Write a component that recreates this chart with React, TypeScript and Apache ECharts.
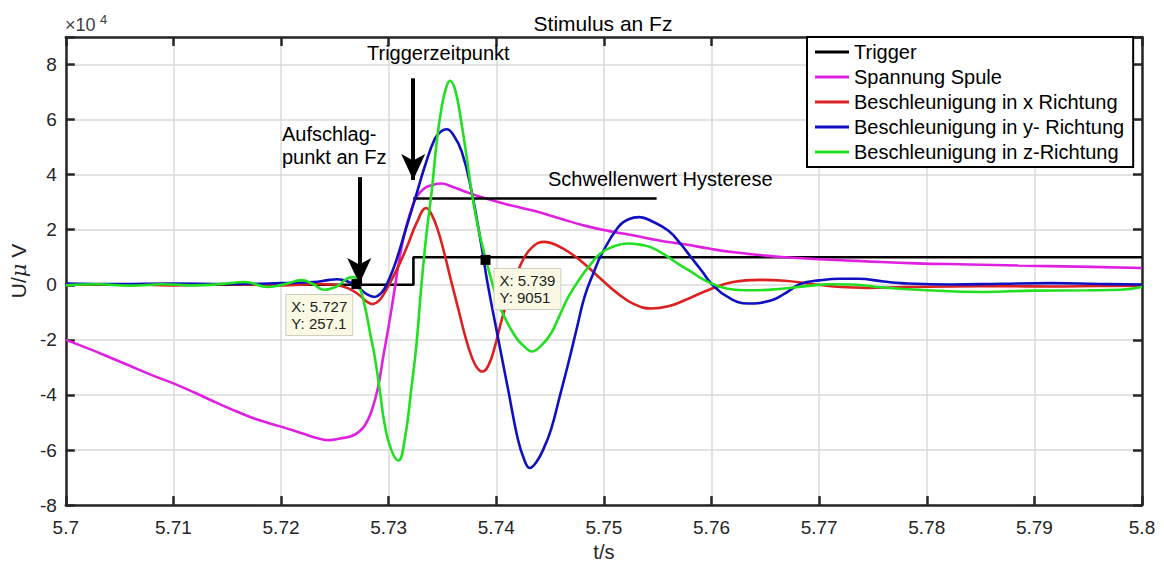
import React, { useEffect, useRef } from "react";
import * as echarts from "echarts";

const FONT = "'Liberation Sans', Arial, Helvetica, sans-serif";

const seriesNames = [
  "Trigger",
  "Spannung Spule",
  "Beschleunigung in x Richtung",
  "Beschleunigung in y- Richtung",
  "Beschleunigung in z-Richtung",
];

// Trigger
const tTrig = [5.7, 5.7323, 5.7323, 5.8];
const vTrig = [0, 0, 10000, 10000];

// Spannung Spule
const tMag = [
  5.7, 5.702, 5.704, 5.706, 5.708, 5.71, 5.712, 5.714, 5.716, 5.718, 5.72, 5.722,
  5.7235, 5.7245, 5.7255, 5.7265, 5.7272, 5.7278, 5.7284, 5.729, 5.7295, 5.73,
  5.7305, 5.731, 5.7315, 5.732, 5.7326, 5.7333, 5.734, 5.7349, 5.7358, 5.737,
  5.7389, 5.741, 5.7435, 5.746, 5.7482, 5.7505, 5.7528, 5.755, 5.7575, 5.76,
  5.7621, 5.7645, 5.7668, 5.77, 5.774, 5.779, 5.784, 5.7885, 5.794, 5.8,
];
const vMag = [
  -20000, -23000, -26200, -29500, -32800, -35800, -39200, -42800, -46200, -49200,
  -51500, -54000, -55800, -56400, -55800, -55000, -53500, -51000, -46000, -37500,
  -26000, -15000, -3000, 9500, 19000, 26000, 32000, 35000, 36200, 36800, 35800,
  34000, 31500, 29200, 26900, 24000, 21500, 19500, 17900, 16200, 14700, 13000,
  11800, 10800, 10000, 9300, 8600, 7800, 7400, 7000, 6600, 6100,
];

// Beschleunigung in x Richtung
const tRed = [
  5.7, 5.705, 5.71, 5.715, 5.72, 5.7235, 5.725, 5.7262, 5.7272, 5.728, 5.7285,
  5.7291, 5.7296, 5.7301, 5.731, 5.7318, 5.7326, 5.7335, 5.734, 5.7346, 5.7352,
  5.7358, 5.7365, 5.7371, 5.7377, 5.7382, 5.7387, 5.7393, 5.7399, 5.7405, 5.7414,
  5.7423, 5.7433, 5.7445, 5.7457, 5.747, 5.7482, 5.7497, 5.7513, 5.7528, 5.7544,
  5.756, 5.7575, 5.76, 5.762, 5.7645, 5.7668, 5.769, 5.772, 5.7745, 5.778, 5.7823,
  5.787, 5.7916, 5.796, 5.8,
];
const vRed = [
  0, 200, -200, 200, -200, 300, 0, -1200, -3500, -6200, -7000, -5800, -3000, 500,
  7500, 14700, 22500, 27900, 25500, 19500, 11000, 1500, -9200, -18500, -26000,
  -30000, -31500, -29000, -22000, -12800, -1500, 7600, 13500, 15600, 14200, 11200,
  7600, 2200, -3200, -7000, -8600, -7800, -5600, -1400, 1000, 1800, 1500, 500,
  -800, -1100, -800, -600, -500, -600, -400, -300,
];

// Beschleunigung in y- Richtung
const tBlue = [
  5.7, 5.705, 5.71, 5.715, 5.72, 5.723, 5.7245, 5.7252, 5.7262, 5.7272, 5.728,
  5.7287, 5.7293, 5.7298, 5.7304, 5.7309, 5.7315, 5.7321, 5.7327, 5.7334, 5.7343,
  5.7349, 5.7354, 5.736, 5.7368, 5.7377, 5.7386, 5.7392, 5.7402, 5.7411, 5.742,
  5.7426, 5.7431, 5.7437, 5.7444, 5.7451, 5.7459, 5.7467, 5.7475, 5.7482, 5.749,
  5.7498, 5.7513, 5.7523, 5.7533, 5.7545, 5.756, 5.7571, 5.7581, 5.7591, 5.76,
  5.7615, 5.7634, 5.7656, 5.7668, 5.7683, 5.77, 5.772, 5.7736, 5.776, 5.7776,
  5.7823, 5.787, 5.7916, 5.796, 5.8,
];
const vBlue = [
  500, 300, 500, 300, 600, 1000, 1800, 2000, 1200, -1000, -3500, -4400, -3000, 0,
  5500, 11200, 19000, 26700, 34500, 43500, 53100, 55800, 56500, 54500, 48300,
  34000, 14700, 400, -20000, -38000, -56000, -63500, -66500, -64500, -59500,
  -52400, -40500, -28400, -15500, -4400, 4000, 11200, 20800, 23800, 24600, 23000,
  19600, 15000, 10000, 5000, 400, -4400, -6800, -5600, -3200, 400, 1600, 2200,
  2200, 1200, 600, 100, 400, 600, 300, 100,
];

// Beschleunigung in z-Richtung
const tGreen = [
  5.7, 5.703, 5.706, 5.709, 5.712, 5.7145, 5.7166, 5.7188, 5.7205, 5.7219, 5.723,
  5.724, 5.7252, 5.7262, 5.7267, 5.7272, 5.7278, 5.7283, 5.7287, 5.7292, 5.7296,
  5.7302, 5.7309, 5.7315, 5.7321, 5.7326, 5.733, 5.7335, 5.734, 5.7345, 5.7349,
  5.7353, 5.7357, 5.7362, 5.7368, 5.7373, 5.7377, 5.7383, 5.7389, 5.7396, 5.7402,
  5.7408, 5.7414, 5.742, 5.7426, 5.7433, 5.7442, 5.7451, 5.7459, 5.7467, 5.7478,
  5.7488, 5.7497, 5.7507, 5.7522, 5.7535, 5.7544, 5.7557, 5.7569, 5.7582, 5.7594,
  5.7615, 5.7637, 5.766, 5.769, 5.771, 5.773, 5.776, 5.7792, 5.7853, 5.79, 5.795,
  5.798, 5.8,
];
const vGreen = [
  -200, 200, -300, 200, -200, 300, 1000, -800, 400, 1700, 200, -1800, -500, 2400,
  2800, 400, -8000, -18000, -26000, -39000, -50000, -59500, -63800, -56000,
  -38000, -21000, -2000, 18000, 34000, 53000, 63900, 71000, 74100, 70500, 57900,
  45000, 34000, 21000, 11200, 1000, -6800, -12000, -16400, -20000, -22400, -24200,
  -22000, -17600, -11000, -4400, 2500, 7600, 11500, 13600, 15000, 14500, 13600,
  10800, 7600, 4500, 1600, -1400, -2000, -1600, -400, 200, 100, -1000, -1800,
  -2600, -2100, -2000, -1800, -800,
];

// data tips (x, y as shown in the picture)
const tipX = [5.727, 5.739];
const tipY = [257.1, 9051];
const tipLabels = ["X: 5.727\nY: 257.1", "X: 5.739\nY: 9051"];

// annotation arrows and threshold line (data coordinates)
const arrowImpact = { x: 5.72727, from: 39100, to: 300 };
const arrowTrigger = { x: 5.73228, from: 75000, to: 38100 };
const hysteresis = { from: 5.73228, to: 5.7549, level: 31300 };

const colors = ["#000000", "#e020e0", "#dd2020", "#1010c0", "#20e020"];

const zip = (t: number[], v: number[]) => t.map((x, i) => [x, v[i]]);

export default function App() {
  const ref = useRef<HTMLDivElement>(null);
  useEffect(() => {
    if (!ref.current) return;
    const chart = echarts.init(ref.current, undefined, { renderer: "svg" });
    const axisLine = { show: true, onZero: false, lineStyle: { color: "#262626", width: 2.5 } };
    const axisTick = { show: true, inside: true, length: 9, lineStyle: { color: "#262626", width: 2.5 } };
    const splitLine = { show: true, lineStyle: { color: "#dadada", width: 1.5 } };
    const datasets = [
      zip(tTrig, vTrig),
      zip(tMag, vMag),
      zip(tRed, vRed),
      zip(tBlue, vBlue),
      zip(tGreen, vGreen),
    ];
    const lineSeries = datasets.map((d, i) => ({
      name: seriesNames[i],
      type: "line",
      data: d,
      showSymbol: false,
      symbol: "none",
      smooth: i === 0 ? false : 0.45,
      lineStyle: { color: colors[i], width: 2.6 },
      itemStyle: { color: colors[i] },
      z: 2 + i,
    }));
    const tipOffsets = [
      [-70, 31],
      [9, 29],
    ];
    chart.setOption({
      animation: false,
      backgroundColor: "#ffffff",
      textStyle: { fontFamily: FONT },
      grid: { left: 64, right: 22, top: 37, bottom: 57 },
      xAxis: [
        {
          type: "value",
          min: 5.7,
          max: 5.8,
          interval: 0.01,
          position: "bottom",
          axisLine,
          axisTick,
          splitLine,
          axisLabel: {
            fontSize: 19,
            color: "#262626",
            margin: 13,
            fontFamily: FONT,
            formatter: (v: number) => String(Math.round(v * 100) / 100),
          },
          name: "t/s",
          nameLocation: "middle",
          nameGap: 33,
          nameTextStyle: { fontSize: 20, color: "#262626", fontFamily: FONT },
        },
        {
          type: "value",
          min: 5.7,
          max: 5.8,
          interval: 0.01,
          position: "top",
          axisLine,
          axisTick,
          splitLine: { show: false },
          axisLabel: { show: false },
        },
      ],
      yAxis: [
        {
          type: "value",
          min: -80000,
          max: 90000,
          interval: 20000,
          position: "left",
          axisLine,
          axisTick,
          splitLine,
          axisLabel: {
            fontSize: 19,
            color: "#262626",
            margin: 9,
            fontFamily: FONT,
            formatter: (v: number) => (v > 85000 ? "" : String(Math.round(v / 10000))),
          },
          name: "{a|U/}{b|μ}{a| V}",
          nameLocation: "middle",
          nameGap: 30,
          nameTextStyle: {
            rich: {
              a: { fontSize: 21, color: "#262626", fontFamily: FONT },
              b: { fontSize: 21, color: "#262626", fontFamily: "'DejaVu Serif', serif", fontStyle: "italic" },
            },
          },
        },
        {
          type: "value",
          min: -80000,
          max: 90000,
          interval: 20000,
          position: "right",
          axisLine,
          axisTick,
          splitLine: { show: false },
          axisLabel: { show: false },
        },
      ],
      legend: {
        data: seriesNames,
        left: 807,
        top: 37,
        orient: "vertical",
        icon: "rect",
        itemWidth: 34,
        itemHeight: 3,
        itemGap: 5,
        padding: [5, 9, 5, 8],
        borderColor: "#000",
        borderWidth: 2,
        backgroundColor: "#ffffff",
        textStyle: { fontSize: 20, color: "#000", fontFamily: FONT, lineHeight: 20 },
      },
      series: [
        ...lineSeries,
        {
          name: "annot",
          type: "line",
          data: [],
          silent: true,
          z: 20,
          markLine: {
            silent: true,
            symbol: ["none", "arrow"],
            symbolSize: [18, 26],
            label: { show: false },
            lineStyle: { color: "#000", width: 4, type: "solid" },
            data: [
              [
                { coord: [arrowImpact.x, arrowImpact.from] },
                { coord: [arrowImpact.x, arrowImpact.to] },
              ],
              [
                { coord: [arrowTrigger.x, arrowTrigger.from] },
                { coord: [arrowTrigger.x, arrowTrigger.to] },
              ],
              [
                { coord: [hysteresis.from, hysteresis.level], symbol: "none", lineStyle: { width: 2.6, color: "#000" } },
                { coord: [hysteresis.to, hysteresis.level], symbol: "none" },
              ],
            ],
          },
        },
        {
          name: "tips",
          type: "scatter",
          silent: true,
          z: 25,
          symbol: "rect",
          symbolSize: 10,
          itemStyle: { color: "#000", opacity: 1 },
          data: tipX.map((x, i) => ({
            value: [x, tipY[i]],
            label: {
              show: true,
              formatter: tipLabels[i],
              position: "inside",
              align: "left",
              verticalAlign: "middle",
              offset: tipOffsets[i],
              fontSize: 15,
              lineHeight: 17,
              color: "#222",
              fontFamily: FONT,
              backgroundColor: "#fafae4",
              borderColor: "#cfcfc0",
              borderWidth: 1,
              padding: [3, 5, 3, 5],
            },
          })),
        },
      ],
      graphic: [
        {
          type: "text",
          x: 603,
          y: 23,
          style: { text: "Stimulus an Fz", fontSize: 21, fill: "#000", fontFamily: FONT, align: "center", verticalAlign: "middle" },
        },
        {
          type: "text",
          x: 65,
          y: 34,
          style: { text: "×10", fontSize: 18, fill: "#404040", fontFamily: FONT, align: "left", verticalAlign: "bottom" },
        },
        {
          type: "text",
          x: 100,
          y: 13,
          style: { text: "4", fontSize: 13, fill: "#404040", fontFamily: FONT, align: "left", verticalAlign: "top" },
        },
        {
          type: "text",
          x: 367,
          y: 53,
          z: 30,
          style: { text: "Triggerzeitpunkt", fontSize: 20, fill: "#000", fontFamily: FONT, align: "left", verticalAlign: "middle" },
        },
        {
          type: "text",
          x: 282,
          y: 122,
          z: 30,
          style: { text: "Aufschlag-\npunkt an Fz", fontSize: 20, lineHeight: 23, fill: "#000", fontFamily: FONT, align: "left", verticalAlign: "top" },
        },
        {
          type: "text",
          x: 548,
          y: 179,
          z: 30,
          style: { text: "Schwellenwert Hysterese", fontSize: 20, fill: "#000", fontFamily: FONT, align: "left", verticalAlign: "middle" },
        },
      ],
    });
    return () => chart.dispose();
  }, []);
  return <div ref={ref} style={{ position: "absolute", left: 0, top: 0, width: 1164, height: 567 }} />;
}
